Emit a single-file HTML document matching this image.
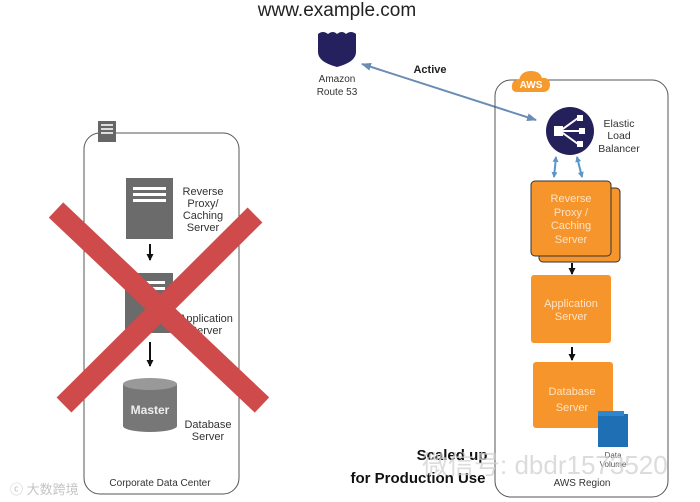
<!DOCTYPE html>
<html><head><meta charset="utf-8"><style>
html,body{margin:0;padding:0;background:#fff;}
svg{display:block;font-family:"Liberation Sans","Noto Sans CJK SC",sans-serif;}
</style></head><body>
<svg width="700" height="502" viewBox="0 0 700 502" xmlns="http://www.w3.org/2000/svg">
<defs>
<marker id="bh" markerUnits="userSpaceOnUse" markerWidth="10" markerHeight="8" refX="9" refY="4" orient="auto-start-reverse"><path d="M0,0 L10,4 L0,8 z" fill="#6a8cb5"/></marker>
<marker id="sh" markerUnits="userSpaceOnUse" markerWidth="6" markerHeight="6" refX="5" refY="3" orient="auto-start-reverse"><path d="M0,0 L6,3 L0,6 z" fill="#5a95cc"/></marker>
<marker id="kh" markerUnits="userSpaceOnUse" markerWidth="7" markerHeight="7" refX="6" refY="3.5" orient="auto"><path d="M0,0 L7,3.5 L0,7 z" fill="#111"/></marker>
</defs>
<rect width="700" height="502" fill="#fff"/>
<text x="337" y="16" font-size="19" text-anchor="middle" fill="#222">www.example.com</text>
<path d="M318,34 q5,-4 10,0 q5,-4 9,0 q5,-4 9,0 q5,-4 10,0 v18 q0,10 -19,15 q-19,-5 -19,-15 z" fill="#25215e"/>
<g font-size="10" fill="#333" text-anchor="middle"><text x="337" y="82">Amazon</text><text x="337" y="95">Route 53</text></g>
<line x1="362" y1="64" x2="536" y2="120" stroke="#6a8cb5" stroke-width="2" marker-start="url(#bh)" marker-end="url(#bh)"/>
<text x="430" y="73" font-size="11" font-weight="bold" fill="#222" text-anchor="middle">Active</text>

<rect x="84" y="133" width="155" height="361" rx="16" fill="none" stroke="#555" stroke-width="1"/>
<rect x="98" y="121" width="18" height="21" fill="#666"/>
<g fill="#ddd"><rect x="101" y="124" width="12" height="2"/><rect x="101" y="128" width="12" height="2"/><rect x="101" y="132" width="12" height="2"/></g>
<rect x="126" y="178" width="47" height="61" fill="#6b6b6b"/>
<g fill="#fff"><rect x="133" y="187" width="33" height="3"/><rect x="133" y="193" width="33" height="3"/><rect x="133" y="199" width="33" height="3"/></g>
<g font-size="11" fill="#333" text-anchor="middle"><text x="203" y="195">Reverse</text><text x="203" y="207">Proxy/</text><text x="203" y="219">Caching</text><text x="203" y="231">Server</text></g>
<line x1="150" y1="244" x2="150" y2="260" stroke="#111" stroke-width="2" marker-end="url(#kh)"/>
<rect x="125" y="273" width="48" height="60" fill="#6b6b6b"/>
<g fill="#fff"><rect x="132" y="281" width="33" height="3"/><rect x="132" y="287" width="33" height="3"/></g>
<g font-size="11" fill="#333" text-anchor="middle"><text x="206" y="322">Application</text><text x="206" y="334">Server</text></g>
<line x1="150" y1="342" x2="150" y2="366" stroke="#111" stroke-width="2" marker-end="url(#kh)"/>
<path d="M123,384 v42 a27,6 0 0 0 54,0 v-42 z" fill="#777"/>
<ellipse cx="150" cy="384" rx="27" ry="6" fill="#999"/>
<text x="150" y="414" font-size="12" font-weight="bold" fill="#eee" text-anchor="middle">Master</text>
<g font-size="11" fill="#333" text-anchor="middle"><text x="208" y="428">Database</text><text x="208" y="440">Server</text></g>
<text x="160" y="486" font-size="10" fill="#333" text-anchor="middle">Corporate Data Center</text>
<g stroke="#cf4b4b" stroke-width="21" stroke-linecap="butt">
<line x1="56" y1="210" x2="262" y2="405"/>
<line x1="255" y1="215" x2="64" y2="405"/>
</g>
<text x="10" y="494" font-size="13" fill="#c4c4c4">ⓒ 大数跨境</text>

<rect x="495" y="80" width="173" height="417" rx="16" fill="none" stroke="#555" stroke-width="1"/>
<path d="M517,92 q-6,0 -5,-7 q1,-6 7,-5 q2,-9 12,-9 q9,0 11,7 q7,-1 8,6 q0,8 -7,8 z" fill="#f79a2e"/>
<text x="531" y="88" font-size="10" font-weight="bold" fill="#fff" text-anchor="middle">AWS</text>
<circle cx="570" cy="131" r="24" fill="#24205a"/>
<g stroke="#fff" stroke-width="2" fill="none"><line x1="560" y1="131" x2="578" y2="118"/><line x1="560" y1="131" x2="580" y2="131"/><line x1="560" y1="131" x2="578" y2="144"/></g>
<g fill="#fff"><rect x="554" y="126" width="9" height="10"/><rect x="577" y="115" width="6" height="6"/><rect x="579" y="128" width="6" height="6"/><rect x="577" y="141" width="6" height="6"/></g>
<g font-size="10.5" fill="#333" text-anchor="middle"><text x="619" y="127">Elastic</text><text x="619" y="139">Load</text><text x="619" y="152">Balancer</text></g>
<line x1="556" y1="157" x2="554" y2="177" stroke="#5a95cc" stroke-width="2" marker-start="url(#sh)" marker-end="url(#sh)"/>
<line x1="577" y1="157" x2="582" y2="177" stroke="#5a95cc" stroke-width="2" marker-start="url(#sh)" marker-end="url(#sh)"/>
<rect x="539" y="188" width="81" height="74" rx="4" fill="#f7952d" stroke="#333" stroke-width="1"/>
<rect x="531" y="181" width="80" height="75" rx="4" fill="#f7952d" stroke="#333" stroke-width="1"/>
<g font-size="11" fill="#fde3c4" text-anchor="middle"><text x="571" y="202">Reverse</text><text x="571" y="216">Proxy /</text><text x="571" y="229">Caching</text><text x="571" y="243">Server</text></g>
<line x1="572" y1="263" x2="572" y2="274" stroke="#111" stroke-width="2" marker-end="url(#kh)"/>
<rect x="531" y="275" width="80" height="68" rx="3" fill="#f7952d"/>
<g font-size="11" fill="#fde3c4" text-anchor="middle"><text x="571" y="307">Application</text><text x="571" y="320">Server</text></g>
<line x1="572" y1="347" x2="572" y2="360" stroke="#111" stroke-width="2" marker-end="url(#kh)"/>
<rect x="533" y="362" width="80" height="66" rx="3" fill="#f7952d"/>
<g font-size="11" fill="#fde3c4" text-anchor="middle"><text x="572" y="395">Database</text><text x="572" y="411">Server</text></g>
<rect x="598" y="414" width="30" height="33" fill="#1f6fb5"/>
<rect x="598" y="411" width="26" height="5" fill="#2e86cf"/>
<g font-size="8" fill="#555" text-anchor="middle"><text x="613" y="458">Data</text><text x="613" y="467">Volume</text></g>
<text x="582" y="486" font-size="10" fill="#333" text-anchor="middle">AWS Region</text>
<text x="452" y="460" font-size="15" font-weight="bold" fill="#111" text-anchor="middle">Scaled up</text>
<text x="418" y="483" font-size="15" font-weight="bold" fill="#111" text-anchor="middle">for Production Use</text>
<text x="422" y="474" font-size="26" fill="#d0d0d0" fill-opacity="0.75">微信号: dbdr1573520</text>
</svg>
</body></html>
